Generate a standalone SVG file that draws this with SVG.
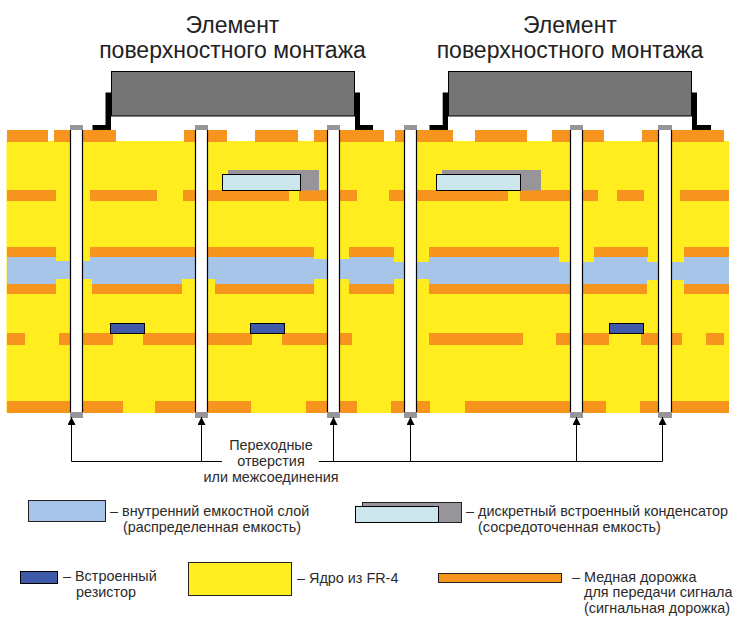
<svg xmlns="http://www.w3.org/2000/svg" width="737" height="626" viewBox="0 0 737 626">
<style>
text{font-family:"Liberation Sans",Arial,sans-serif;fill:#2b2b2b;font-size:14.4px}
.t{font-size:23px;text-anchor:middle;fill:#222}
.m{text-anchor:middle}
.cu{fill:#f7941e}
.cap{fill:#a6c5e8}
.ic{fill:#757575;stroke:#000;stroke-width:1}
.lead{fill:#000}
.cg{fill:#98959a}
.cl{fill:#cbe6ec;stroke:#000;stroke-width:1}
.r{fill:#3f5aa9;stroke:#000;stroke-width:1}
.vw{fill:#fff}
.vl{stroke:#000;stroke-width:1.2;fill:none}
.vc{fill:#98959a}
.cn{stroke:#000;stroke-width:1;fill:none}
.lg{stroke:#222;stroke-width:1}
</style>
<defs>
<marker id="ah" markerUnits="userSpaceOnUse" markerWidth="8" markerHeight="8" refX="8" refY="4" orient="auto" viewBox="0 0 8 8"><path d="M0 0L8 4L0 8Z" fill="#000"/></marker>
</defs>
<g id="board">
<rect x="6.5" y="141" width="722.5" height="272" fill="#ffed1f"/>
<path class="cap" d="M7 257H56V261H90V257H314V259H349V257H394V262H429V257H559V262H594V257H647V262H684V257H729V284H684V280H647V284H429V279H394V284H349V279H314V284H215V279H182V284H92V279H56V284H7Z"/>
<g class="cu">
<rect x="7" y="130" width="41" height="12"/><rect x="54" y="130" width="62" height="12"/><rect x="184" y="130" width="43" height="12"/><rect x="255" y="130" width="43" height="12"/><rect x="314" y="130" width="70" height="12"/><rect x="395" y="130" width="58" height="12"/><rect x="475" y="130" width="52" height="12"/><rect x="552" y="130" width="52" height="12"/><rect x="642" y="130" width="82" height="12"/>
<rect x="7" y="190" width="49" height="11"/><rect x="90" y="190" width="67" height="11"/><rect x="183" y="190" width="106" height="11"/><rect x="299" y="190" width="58" height="11"/><rect x="389" y="190" width="119" height="11"/><rect x="520" y="190" width="78" height="11"/><rect x="617" y="190" width="27" height="11"/><rect x="680" y="190" width="49" height="11"/>
<rect x="7" y="247" width="49" height="10"/><rect x="90" y="247" width="224" height="10"/><rect x="349" y="247" width="45" height="10"/><rect x="429" y="247" width="130" height="10"/><rect x="594" y="247" width="54" height="10"/><rect x="684" y="247" width="45" height="10"/>
<rect x="7" y="284" width="49" height="10"/><rect x="92" y="284" width="90" height="10"/><rect x="215" y="284" width="99" height="10"/><rect x="349" y="284" width="45" height="10"/><rect x="429" y="284" width="218" height="10"/><rect x="684" y="284" width="45" height="10"/>
<rect x="7" y="333" width="18" height="12"/><rect x="59" y="333" width="54" height="12"/><rect x="143" y="333" width="109" height="12"/><rect x="282" y="333" width="70" height="12"/><rect x="429" y="333" width="94" height="12"/><rect x="556" y="333" width="53" height="12"/><rect x="641" y="333" width="41" height="12"/><rect x="706" y="333" width="18" height="12"/>
<rect x="7" y="401" width="116" height="12"/><rect x="155" y="401" width="96" height="12"/><rect x="306" y="401" width="51" height="12"/><rect x="391" y="401" width="39" height="12"/><rect x="465" y="401" width="141" height="12"/><rect x="640" y="401" width="89" height="12"/>
</g>
</g>
<g id="chip-left">
<path class="lead" d="M105.5 92.5H111V130H92.5V125H105.5Z"/>
<path class="lead" d="M355 92.5H360V125H373V130H355Z"/>
<rect class="ic" x="111.5" y="71.5" width="243" height="44.5"/>
</g>
<g id="chip-right">
<path class="lead" d="M442.7 92.5H448V130H429.5V125H442.7Z"/>
<path class="lead" d="M692 92.5H697V125H711V130H692Z"/>
<rect class="ic" x="448.5" y="71.5" width="243" height="44.5"/>
</g>
<g id="capacitor-left"><rect class="cg" x="228" y="170" width="91" height="20.5"/><rect class="cl" x="222.5" y="174.5" width="78" height="16"/></g>
<g id="capacitor-right"><rect class="cg" x="442" y="170" width="99" height="20.5"/><rect class="cl" x="436.5" y="174.5" width="84" height="16"/></g>
<g id="resistors">
<rect class="r" x="110.5" y="323.5" width="34" height="10"/><rect class="r" x="250.5" y="323.5" width="34" height="10"/><rect class="r" x="609.5" y="323.5" width="34" height="10"/>
</g>
<g id="vias">
<g id="via-1"><rect class="vc" x="70" y="125" width="13" height="6"/><rect class="vc" x="70" y="412" width="13" height="6"/><rect class="vw" x="70.5" y="130" width="12" height="282"/><path class="vl" d="M70.5 130V412M82.5 130V412"/></g>
<g id="via-2"><rect class="vc" x="195" y="125" width="13" height="6"/><rect class="vc" x="195" y="412" width="13" height="6"/><rect class="vw" x="195.5" y="130" width="12" height="282"/><path class="vl" d="M195.5 130V412M207.5 130V412"/></g>
<g id="via-3"><rect class="vc" x="327" y="125" width="13" height="6"/><rect class="vc" x="327" y="412" width="13" height="6"/><rect class="vw" x="327.5" y="130" width="12" height="282"/><path class="vl" d="M327.5 130V412M339.5 130V412"/></g>
<g id="via-4"><rect class="vc" x="404" y="125" width="13" height="6"/><rect class="vc" x="404" y="412" width="13" height="6"/><rect class="vw" x="404.5" y="130" width="12" height="282"/><path class="vl" d="M404.5 130V412M416.5 130V412"/></g>
<g id="via-5"><rect class="vc" x="570" y="125" width="13" height="6"/><rect class="vc" x="570" y="412" width="13" height="6"/><rect class="vw" x="570.5" y="130" width="12" height="282"/><path class="vl" d="M570.5 130V412M582.5 130V412"/></g>
<g id="via-6"><rect class="vc" x="658" y="125" width="14" height="6"/><rect class="vc" x="658" y="412" width="14" height="6"/><rect class="vw" x="658.5" y="130" width="13" height="282"/><path class="vl" d="M658.5 130V412M671.5 130V412"/></g>
</g>
<g id="connectors">
<path class="cn" d="M222 461.5H71.5V417" marker-end="url(#ah)"/>
<path class="cn" d="M201.5 461.5V417" marker-end="url(#ah)"/>
<path class="cn" d="M319 461.5H662.5V417" marker-end="url(#ah)"/>
<path class="cn" d="M333.5 461.5V417" marker-end="url(#ah)"/>
<path class="cn" d="M410.5 461.5V417" marker-end="url(#ah)"/>
<path class="cn" d="M576.5 461.5V417" marker-end="url(#ah)"/>
</g>
<g id="titles">
<text class="t" x="232.5" y="32.5">Элемент</text>
<text class="t" x="232.5" y="58">поверхностного монтажа</text>
<text class="t" x="570" y="32.5">Элемент</text>
<text class="t" x="570" y="58">поверхностного монтажа</text>
</g>
<g id="via-label">
<text class="m" x="271" y="450">Переходные</text>
<text class="m" x="271" y="466">отверстия</text>
<text class="m" x="271" y="482">или межсоединения</text>
</g>
<g id="legend-capacitive-layer"><rect class="cap lg" x="28.5" y="500.5" width="77" height="21"/><text x="110" y="516">– внутренний емкостной слой</text><text x="123" y="532">(распределенная емкость)</text></g>
<g id="legend-discrete-capacitor"><rect class="cg lg" x="362.5" y="502.5" width="99" height="20"/><rect class="cl" x="355.5" y="506.5" width="83" height="16"/><text x="466" y="516">– дискретный встроенный конденсатор</text><text x="478" y="532">(сосредоточенная емкость)</text></g>
<g id="legend-resistor"><rect class="r" x="20.5" y="571.5" width="37" height="12"/><text x="63" y="581">– Встроенный</text><text x="76" y="597">резистор</text></g>
<g id="legend-core"><rect x="188.5" y="562.5" width="103" height="33" fill="#ffed1f" stroke="#222"/><text x="297" y="583">– Ядро из FR-4</text></g>
<g id="legend-copper"><rect class="cu lg" x="438.5" y="573.5" width="123" height="9"/><text x="572" y="581.5">– Медная дорожка</text><text x="584" y="597">для передачи сигнала</text><text x="584" y="613">(сигнальная дорожка)</text></g>
</svg>
